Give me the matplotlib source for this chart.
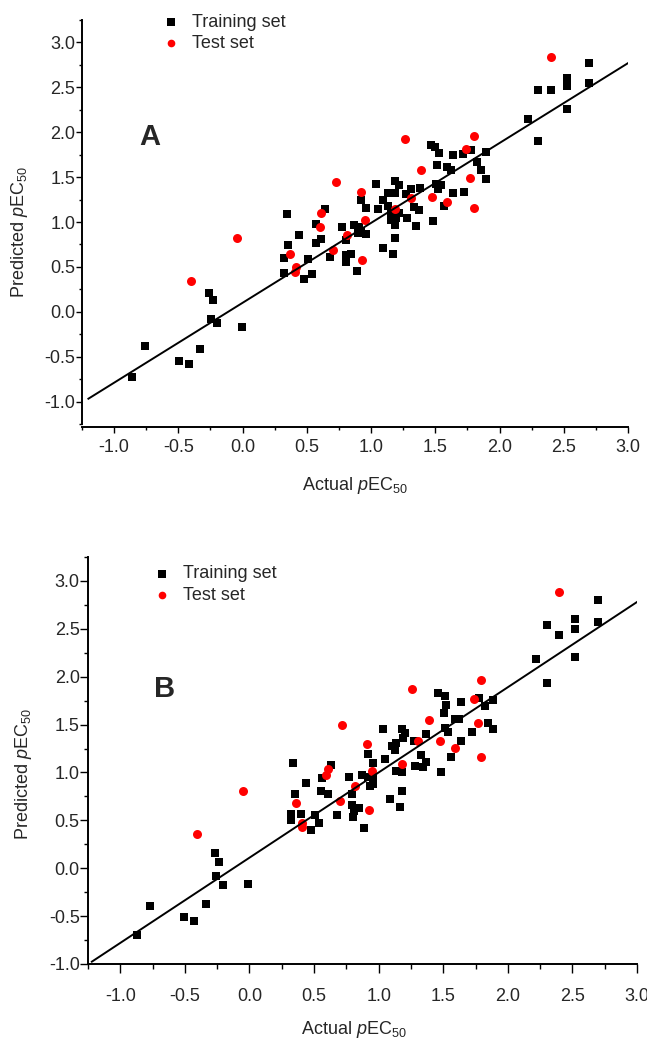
import matplotlib
matplotlib.use("Agg")
import matplotlib.pyplot as plt
from matplotlib.ticker import MultipleLocator, FormatStrFormatter


# panel A: training set (actual, predicted)
A_TRAIN_X = [
    -0.857, -0.758, -0.498, -0.415, -0.329, -0.264, -0.233, -0.246, -0.202, -0.004,
    1.465, 1.496, 1.527, 1.639, 1.717, 1.78, 1.894, 1.821, 1.514, 1.592,
    1.621, 1.855, 1.894, 1.041, 1.187, 1.218, 1.132, 1.184, 1.275, 1.314,
    1.385, 1.509, 1.548, 1.522, 1.639, 1.722, 1.569, 0.919, 0.963, 1.054,
    1.093, 1.132, 1.153, 1.197, 1.218, 1.332, 1.374, 1.28, 1.153, 1.187,
    1.353, 1.483, 0.643, 0.342, 0.568, 0.771, 0.867, 0.903, 0.924, 0.963,
    0.898, 0.438, 0.612, 0.568, 0.355, 0.802, 1.19, 0.677, 0.807, 0.846,
    0.802, 1.093, 1.17, 0.89, 0.508, 0.326, 0.32, 0.482, 0.542,
    2.70, 2.523, 2.523, 2.302, 2.401, 2.70, 2.523, 2.219, 2.302,
]
A_TRAIN_Y = [
    -0.73, -0.38, -0.55, -0.58, -0.41, 0.21, 0.13, -0.08, -0.13, -0.17,
    1.855, 1.84, 1.77, 1.75, 1.76, 1.80, 1.78, 1.67, 1.64, 1.61,
    1.58, 1.58, 1.48, 1.42, 1.46, 1.41, 1.32, 1.32, 1.31, 1.37,
    1.38, 1.42, 1.41, 1.37, 1.32, 1.34, 1.18, 1.24, 1.16, 1.14,
    1.24, 1.18, 1.10, 1.05, 1.10, 1.17, 1.13, 1.05, 1.02, 0.97,
    0.96, 1.01, 1.14, 1.09, 0.98, 0.94, 0.97, 0.95, 0.90, 0.87,
    0.88, 0.85, 0.81, 0.77, 0.74, 0.80, 0.82, 0.61, 0.63, 0.64,
    0.56, 0.71, 0.64, 0.46, 0.59, 0.60, 0.43, 0.37, 0.42,
    2.77, 2.61, 2.51, 2.47, 2.47, 2.55, 2.26, 2.15, 1.90,
]
# panel A: test set
A_TEST_X = [
    1.262, 1.803, 1.743, 1.389, 0.724, 0.919, 1.772, 1.473, 1.314, 1.592,
    1.803, 1.187, 0.612, 0.95, 0.599, 0.815, 0.703, 0.932, 0.370, 0.417,
    0.41, -0.041, -0.405, 2.401,
]
A_TEST_Y = [
    1.93, 1.96, 1.81, 1.58, 1.45, 1.34, 1.49, 1.28, 1.27, 1.22,
    1.16, 1.15, 1.10, 1.02, 0.95, 0.86, 0.69, 0.58, 0.64, 0.50,
    0.44, 0.82, 0.34, 2.84,
]

# panel B: training set
B_TRAIN_X = [
    -0.871, -0.767, -0.504, -0.426, -0.336, -0.266, -0.238, -0.258, -0.207, -0.013,
    1.46, 1.512, 1.525, 1.506, 1.641, 1.775, 1.886, 1.827, 1.589, 1.62,
    1.847, 1.886, 1.719, 1.512, 1.54, 1.641, 1.563, 1.033, 1.184, 1.202,
    1.189, 1.274, 1.37, 1.103, 1.137, 1.124, 1.326, 0.917, 1.052, 0.956,
    1.279, 1.344, 1.37, 1.137, 1.184, 1.481, 0.873, 0.917, 0.956, 0.93,
    0.956, 0.767, 0.336, 0.633, 0.56, 0.434, 0.556, 0.607, 0.349, 0.796,
    1.184, 1.085, 1.163, 0.793, 0.827, 0.845, 0.808, 0.80, 0.677, 0.886,
    0.40, 0.323, 0.318, 0.509, 0.535, 0.473,
    2.70, 2.519, 2.519, 2.30, 2.40, 2.70, 2.519, 2.222, 2.30,
]
B_TRAIN_Y = [
    -0.70, -0.39, -0.51, -0.555, -0.37, 0.16, 0.07, -0.08, -0.18, -0.16,
    1.83, 1.80, 1.70, 1.62, 1.74, 1.78, 1.76, 1.69, 1.56, 1.56,
    1.52, 1.45, 1.42, 1.465, 1.42, 1.33, 1.16, 1.45, 1.45, 1.41,
    1.36, 1.33, 1.40, 1.28, 1.31, 1.23, 1.18, 1.19, 1.14, 1.10,
    1.07, 1.055, 1.11, 1.02, 1.00, 1.00, 0.97, 0.955, 0.94, 0.86,
    0.875, 0.955, 1.10, 1.08, 0.94, 0.885, 0.805, 0.78, 0.77, 0.77,
    0.81, 0.72, 0.64, 0.66, 0.63, 0.625, 0.60, 0.54, 0.56, 0.42,
    0.57, 0.57, 0.50, 0.56, 0.47, 0.40,
    2.80, 2.60, 2.50, 2.54, 2.44, 2.57, 2.21, 2.19, 1.93,
]
# panel B: test set
B_TEST_X = [
    1.258, 1.796, 1.739, 1.388, 1.77, 0.713, 1.305, 1.473, 0.912, 1.589,
    1.796, 1.184, 0.946, 0.607, 0.595, 0.82, 0.698, 0.922, 0.362, 0.408,
    0.408, -0.049, -0.408, 2.395,
]
B_TEST_Y = [
    1.875, 1.97, 1.77, 1.545, 1.52, 1.50, 1.33, 1.33, 1.30, 1.26,
    1.16, 1.09, 1.02, 1.04, 0.97, 0.86, 0.70, 0.61, 0.68, 0.475,
    0.43, 0.81, 0.36, 2.88,
]

# fitted lines (slope, intercept, x range)
A_FIT = (0.89, 0.10, -1.20, 3.0)
B_FIT = (0.89, 0.11, -1.22, 3.0)

TEXT_COLOR = "#262626"


def set_style():
    plt.rcParams.update({
        "font.family": ["Liberation Sans", "DejaVu Sans"],
        "font.size": 13,
        "mathtext.fontset": "custom",
        "mathtext.rm": "Liberation Sans",
        "mathtext.it": "Liberation Sans:italic",
        "axes.linewidth": 1.4,
        "text.color": TEXT_COLOR,
        "axes.labelcolor": TEXT_COLOR,
        "xtick.color": "black",
        "ytick.color": "black",
        "xtick.labelcolor": TEXT_COLOR,
        "ytick.labelcolor": TEXT_COLOR,
    })


def draw_panel(ax, train_x, train_y, test_x, test_y, fit, letter, letter_pos,
               legend_anchor, ylim, xtick_pad, tick_len, label_pos):
    ax.scatter(train_x, train_y, marker="s", s=38, color="black",
               linewidths=0, label="Training set", zorder=2)
    ax.scatter(test_x, test_y, marker="o", s=42, color="#ff0000",
               linewidths=0, label="Test set", zorder=3)

    slope, intercept, x0, x1 = fit
    ax.plot([x0, x1], [intercept + slope * x0, intercept + slope * x1],
            color="black", linewidth=1.4, zorder=4)

    ax.set_xlim(-1.25, 3.0)
    ax.set_ylim(*ylim)

    for axis in (ax.xaxis, ax.yaxis):
        axis.set_major_locator(MultipleLocator(0.5))
        axis.set_minor_locator(MultipleLocator(0.25))
        axis.set_major_formatter(FormatStrFormatter("%.1f"))

    ax.spines["top"].set_visible(False)
    ax.spines["right"].set_visible(False)

    xmaj, xmin, ymaj, ymin = tick_len
    ax.tick_params(axis="x", which="major", direction="out", length=xmaj,
                   width=1.0, pad=xtick_pad, labelsize=13)
    ax.tick_params(axis="x", which="minor", direction="out", length=xmin, width=1.0)
    ax.tick_params(axis="y", which="major", direction="out", length=ymaj,
                   width=1.0, pad=0.5, labelsize=13)
    ax.tick_params(axis="y", which="minor", direction="out", length=ymin, width=1.0)

    ax.set_xlabel("Actual $\\mathit{p}$EC$_{50}$", fontsize=13)
    ax.set_ylabel("Predicted $\\mathit{p}$EC$_{50}$", fontsize=13)
    ax.xaxis.set_label_coords(label_pos[0], label_pos[1])
    ax.yaxis.set_label_coords(label_pos[2], label_pos[3])

    ax.text(letter_pos[0], letter_pos[1], letter, transform=ax.transAxes,
            fontsize=21, fontweight="bold", ha="center", va="center",
            color=TEXT_COLOR)

    ax.legend(loc="center left", bbox_to_anchor=legend_anchor, frameon=False,
              fontsize=13, handlelength=0.8, handletextpad=0.75,
              borderpad=0, borderaxespad=0, labelspacing=0.25,
              markerscale=0.85)


def main():
    set_style()
    fig = plt.figure(figsize=(6.47, 10.39), dpi=100)
    fig.patch.set_facecolor("white")

    ax_a = fig.add_axes([0.1267, 0.5919, 0.8439, 0.3888])
    ax_a.spines["bottom"].set_position(("outward", 2.5))
    draw_panel(ax_a, A_TRAIN_X, A_TRAIN_Y, A_TEST_X, A_TEST_Y, A_FIT,
               "A", (0.125, 0.71), (0.150, 0.968), (-1.25, 3.25),
               4.0, (4.1, 2.4, 4.3, 2.0), (0.5, -0.125, -0.095, 0.475))

    ax_b = fig.add_axes([0.136, 0.0722, 0.8485, 0.3917])
    draw_panel(ax_b, B_TRAIN_X, B_TRAIN_Y, B_TEST_X, B_TEST_Y, B_FIT,
               "B", (0.14, 0.675), (0.122, 0.932), (-1.0, 3.25),
               11.0, (6.3, 3.6, 5.5, 3.0), (0.485, -0.135, -0.098, 0.467))

    fig.savefig("out.png", dpi=100)
    plt.close(fig)


if __name__ == "__main__":
    main()
